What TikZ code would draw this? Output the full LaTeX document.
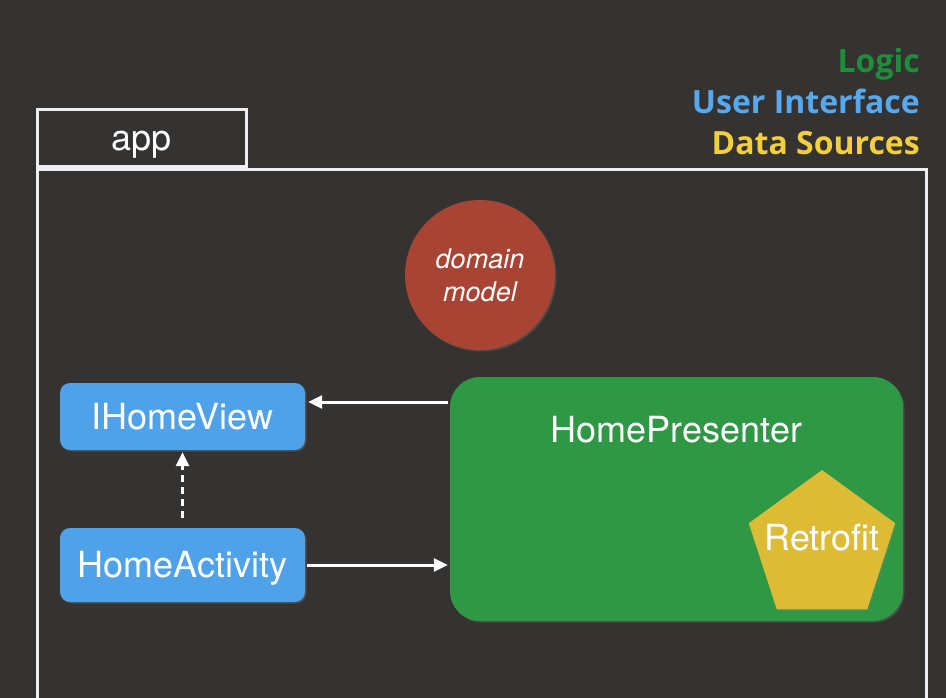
\documentclass[tikz,border=0pt]{standalone}
\usepackage{fontspec}
\setmainfont{TeX Gyre Heros}
\newfontfamily\legendfont{Open Sans}
\usetikzlibrary{arrows.meta, shapes.geometric, shadows}

\definecolor{bgdark}{HTML}{353331}
\definecolor{framewhite}{HTML}{EDEDF2}
\definecolor{uiblue}{HTML}{4FA1EA}
\definecolor{logicgreen}{HTML}{2F9845}
\definecolor{modelred}{HTML}{A84433}
\definecolor{sourceyellow}{HTML}{DDBB35}
\definecolor{legendgreen}{HTML}{1F8E3A}
\definecolor{legendblue}{HTML}{56A9EF}
\definecolor{legendyellow}{HTML}{F3CF3B}

\begin{document}
\begin{tikzpicture}[
    x=1pt, y=-1pt,
    every node/.style={
        text=white,
        align=center,
        font=\fontsize{36}{40}\selectfont
    },
    flatbox/.style={
        text height=25pt,
        text depth=0pt
    },
    uibox/.style={
        flatbox,
        fill=uiblue,
        rounded corners=10pt,
        minimum width=245pt,
        drop shadow={opacity=0.3, shadow xshift=1.5pt, shadow yshift=-1.5pt}
    },
    legend/.style={
        anchor=base east,
        inner sep=0pt,
        font=\legendfont\bfseries\fontsize{32}{36}\selectfont
    },
    arrow/.style={-{Triangle[length=14pt, width=13pt]}, draw=white, line width=3pt}
]

% ------------------------
% Background and frame
% ------------------------
\useasboundingbox[fill=bgdark] (0,0) rectangle (946,698);
\draw[framewhite, line width=3pt] (37,702) -- (37,170) -- (926,170) -- (926,702);

\node (app) [flatbox, draw=framewhite, line width=3pt, minimum width=209pt,
    minimum height=57pt] at (141.5,138.5) {app};

% ------------------------
% Legend
% ------------------------
\node (logic) [legend, text=legendgreen] at (920,73) {Logic};
\node (ui) [legend, text=legendblue] at (920,114) {User Interface};
\node (sources) [legend, text=legendyellow] at (920,155) {Data Sources};

% ------------------------
% Domain model
% ------------------------
\node (model) [circle, fill=modelred, minimum size=150pt,
    font=\itshape\fontsize{27}{33}\selectfont,
    drop shadow={opacity=0.3, shadow xshift=1.5pt, shadow yshift=-1.5pt}]
    at (480,275) {domain\\model};

% ------------------------
% View layer
% ------------------------
\node (view) [uibox, minimum height=67pt] at (182.5,416.5) {IHomeView};
\node (activity) [uibox, minimum height=74pt] at (182.5,565) {HomeActivity};

% ------------------------
% Presenter with data source
% ------------------------
\node (presenter) [fill=logicgreen, rounded corners=30pt,
    minimum width=453pt, minimum height=244pt,
    drop shadow={opacity=0.3, shadow xshift=1.5pt, shadow yshift=-1.5pt},
    label={[anchor=base, yshift=-66pt]north:HomePresenter}]
    at (676.5,499) {};

\node (retrofit) [regular polygon, regular polygon sides=5,
    fill=sourceyellow, minimum size=154pt, inner sep=0pt,
    drop shadow={opacity=0.3, shadow xshift=1.5pt, shadow yshift=-1.5pt},
    label={[anchor=base, yshift=9pt]center:Retrofit}]
    at (822,547) {};

% ------------------------
% Arrows
% ------------------------
\draw[arrow, shorten <=2pt, shorten >=3pt]
    ([yshift=14.5pt]view.east -| presenter.west) -- ([yshift=14.5pt]view.east);
\draw[arrow, shorten <=2pt, shorten >=2pt]
    (activity.east) -- (activity.east -| presenter.west);
\draw[arrow, dash pattern=on 7pt off 5pt, shorten <=10pt, shorten >=2pt]
    (activity.north) -- (view.south);

\end{tikzpicture}
\end{document}
